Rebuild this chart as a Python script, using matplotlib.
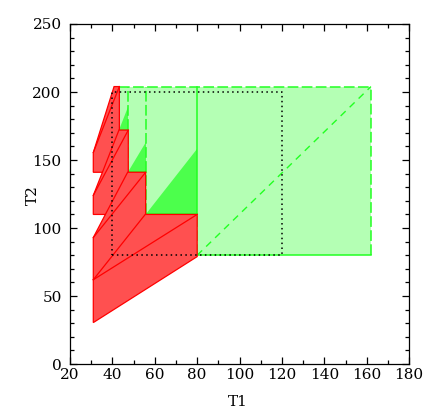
import numpy as np
import matplotlib.pyplot as plt

# Data
# red region outline (T1, T2)
red_t1 = [31, 80, 80, 55.7, 55.7, 47.5, 47.5, 43.3, 43.3, 40.8, 31, 31, 35.3, 31, 31, 36.7, 31]
red_t2 = [30.5, 79, 110, 110, 141, 141, 172, 172, 204, 204, 155.5, 141, 141, 124, 110, 110, 93]

# thin red edges inside the red region
red_seg_t1 = [(31, 55.5), (31, 80), (36.7, 47.2), (31, 55.7), (35.3, 43.1), (31, 47.5), (31, 43.3)]
red_seg_t2 = [(62, 110), (62, 110), (110, 141), (93, 141), (141, 172), (124, 172), (155.5, 204)]

# light green region
light_t1 = [43.3, 162, 162, 80, 80, 55.7, 55.7, 47.5, 47.5, 43.3]
light_t2 = [204, 204, 80, 80, 110, 110, 141, 141, 172, 172]

# bright green triangles
tri_t1 = [[43.3, 47.5, 47.5], [47.3, 55.7, 55.7], [55.7, 80, 80]]
tri_t2 = [[172, 172, 189], [141, 141, 163], [110, 110, 158]]

# green border lines
solid_t1 = [(80, 80), (80, 162), (43.3, 47.5), (47.5, 55.7), (55.7, 80)]
solid_t2 = [(110, 204), (80, 80), (172, 172), (141, 141), (110, 110)]
dash_t1 = [(43.3, 162), (162, 162), (43.3, 43.3), (47.5, 47.5), (55.7, 55.7), (80, 80)]
dash_t2 = [(204, 204), (80, 204), (172, 204), (141, 204), (110, 204), (80, 110)]
diag_t1 = [80, 162]
diag_t2 = [80, 204]

# dotted box
box_t1 = [40, 120, 120, 40, 40]
box_t2 = [80, 80, 200, 200, 80]

plt.rcParams['font.family'] = ['DejaVu Serif']

fig = plt.figure(figsize=(4.32, 4.18), dpi=100)
ax = fig.add_axes([0.162, 0.129, 0.785, 0.8136])

green = '#22ff22'
lw = 0.9

ax.fill(light_t1, light_t2, color='#b4ffb4', lw=0, zorder=1)
for xs, ys in zip(tri_t1, tri_t2):
    ax.fill(xs, ys, color='#4cff4c', lw=0, zorder=2)

for xs, ys in zip(dash_t1, dash_t2):
    ax.plot(xs, ys, color=green, lw=1.1, dashes=(7, 2.2), zorder=3)
for xs, ys in zip(solid_t1, solid_t2):
    ax.plot(xs, ys, color=green, lw=1.1, zorder=3)
ax.plot(diag_t1, diag_t2, color=green, lw=1.0, dashes=(5, 4), zorder=3)

ax.fill(red_t1, red_t2, facecolor='#ff5050', edgecolor='#ff0000', lw=lw, zorder=4)
for xs, ys in zip(red_seg_t1, red_seg_t2):
    ax.plot(xs, ys, color='#ff0000', lw=lw, zorder=5)

ax.plot(box_t1, box_t2, color='black', lw=1.1, dashes=(1, 2.2), zorder=6)

ax.set_xlim(20, 180)
ax.set_ylim(0, 250)
ax.set_xticks(np.arange(20, 181, 20))
ax.set_yticks(np.arange(0, 251, 50))
ax.set_xticks(np.arange(20, 181, 10), minor=True)
ax.set_yticks(np.arange(0, 251, 10), minor=True)
ax.tick_params(which='both', direction='in', top=True, right=True, width=0.9)
ax.tick_params(which='major', length=5, labelsize=11)
ax.tick_params(which='minor', length=3)
ax.tick_params(axis='x', pad=3)
ax.tick_params(axis='y', pad=6)
for s in ax.spines.values():
    s.set_linewidth(0.9)

ax.set_xlabel('T1', fontsize=11)
ax.set_ylabel('T2', fontsize=11)
ax.xaxis.set_label_coords(0.496, -0.112)
ax.yaxis.set_label_coords(-0.109, 0.497)
ax.xaxis.label.set_va('center')
ax.yaxis.label.set_va('center')

fig.savefig('out.png', dpi=100)
